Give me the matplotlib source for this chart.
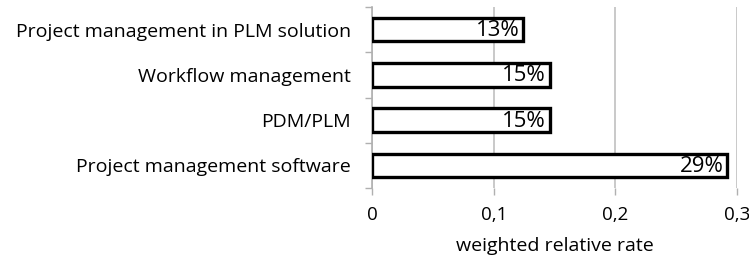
import matplotlib.pyplot as plt
from matplotlib.ticker import FixedLocator, FuncFormatter

categories = ["Project management software", "PDM/PLM",
              "Workflow management", "Project management in PLM solution"]
values = [0.292, 0.146, 0.146, 0.124]
value_labels = ["29%", "15%", "15%", "13%"]
xticks = [0, 0.1, 0.2, 0.3]

plt.rcParams['font.family'] = ['Open Sans', 'DejaVu Sans']

fig = plt.figure(figsize=(7.49, 2.63), dpi=100)
ax = fig.add_axes([0.4967, 0.285, 0.4873, 0.688])

y = range(len(categories))
ax.barh(y, values, height=0.52, color="white", edgecolor="black", linewidth=2.4, zorder=3)
for yi, v, lab in zip(y, values, value_labels):
    ax.text(v - 0.003, yi - 0.02, lab, ha="right", va="center", fontsize=16, zorder=4)

ax.set_xlim(0, 0.3)
ax.set_ylim(-0.5, len(categories) - 0.5)
ax.set_xticks(xticks)
ax.xaxis.set_major_formatter(FuncFormatter(lambda v, p: "0" if v == 0 else f"{v:.1f}".replace(".", ",")))
ax.set_yticks(list(y))
ax.set_yticklabels(categories)
ax.yaxis.set_minor_locator(FixedLocator([i - 0.5 for i in range(len(categories) + 1)]))
ax.tick_params(axis="y", which="major", length=0, pad=15, labelsize=14)
ax.tick_params(axis="y", which="minor", length=5, color="#b0b0b0", width=1)
ax.tick_params(axis="x", length=5, color="#b0b0b0", width=1, labelsize=13.5, pad=8)
ax.grid(axis="x", color="#c0c0c0", linewidth=1.2, zorder=0)
for s in ["top", "right", "bottom"]:
    ax.spines[s].set_visible(False)
ax.spines["left"].set_color("#b0b0b0")
ax.spines["left"].set_linewidth(1.2)
ax.set_xlabel("weighted relative rate", fontsize=14, labelpad=9)

fig.savefig("out.png", dpi=100)
